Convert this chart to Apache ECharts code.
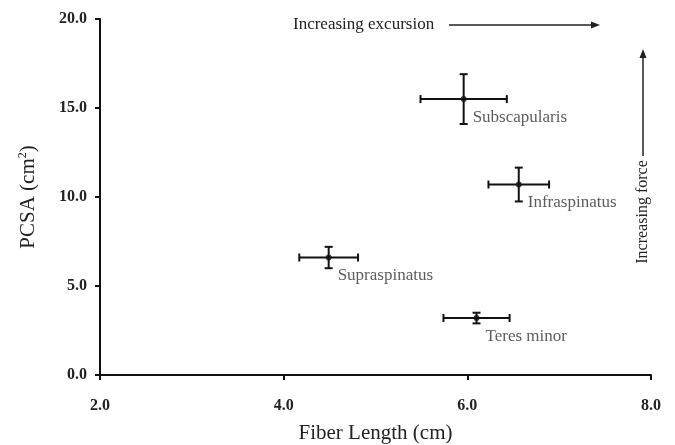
<!DOCTYPE html>
<html>
<head>
<meta charset="utf-8">
<style>
  html, body { margin: 0; padding: 0; background: #fff; }
  #chart { width: 675px; height: 445px; }
</style>
<script src="https://cdn.jsdelivr.net/npm/echarts@6/dist/echarts.min.js"></script>
</head>
<body>
<div id="chart"></div>
<script>
// muscle data
const muscles = ['Subscapularis', 'Infraspinatus', 'Supraspinatus', 'Teres minor'];
const fiberLength = [5.96, 6.56, 4.49, 6.10];   // cm
const fiberLengthErr = [0.47, 0.33, 0.32, 0.36];
const pcsa = [15.5, 10.7, 6.6, 3.2];              // cm^2
const pcsaErr = [1.4, 0.95, 0.6, 0.3];

const xTicks = [2, 4, 6, 8];
const yTicks = [0, 5, 10, 15, 20];

const serif = '"Liberation Serif", "Times New Roman", serif';

const chart = echarts.init(document.getElementById('chart'));

const points = muscles.map((m, i) => ({ name: m, value: [fiberLength[i], pcsa[i]] }));
const errData = muscles.map((m, i) => [fiberLength[i], pcsa[i], fiberLengthErr[i], pcsaErr[i]]);

const renderErr = (params, api) => {
  const x = api.value(0), y = api.value(1), ex = api.value(2), ey = api.value(3);
  const l = api.coord([x - ex, y]), r = api.coord([x + ex, y]);
  const t = api.coord([x, y + ey]), b = api.coord([x, y - ey]);
  const cap = 4;
  const style = { stroke: '#111', lineWidth: 2 };
  const line = (x1, y1, x2, y2) => ({ type: 'line', shape: { x1, y1, x2, y2 }, style });
  return {
    type: 'group',
    children: [
      line(l[0], l[1], r[0], r[1]),
      line(l[0], l[1] - cap, l[0], l[1] + cap),
      line(r[0], r[1] - cap, r[0], r[1] + cap),
      line(t[0], t[1], b[0], b[1]),
      line(t[0] - cap, t[1], t[0] + cap, t[1]),
      line(b[0] - cap, b[1], b[0] + cap, b[1])
    ]
  };
};

const option = {
  animation: false,
  backgroundColor: '#fff',
  grid: { left: 100, right: 24, top: 19, bottom: 70, outerBoundsMode: 'none' },
  xAxis: {
    type: 'value',
    min: xTicks[0],
    max: xTicks[xTicks.length - 1],
    interval: 2,
    name: 'Fiber Length (cm)',
    nameLocation: 'middle',
    nameGap: 48,
    nameTextStyle: { fontFamily: serif, fontSize: 21, color: '#222' },
    axisLine: { lineStyle: { color: '#111', width: 2 } },
    axisTick: { show: true, length: 5, lineStyle: { color: '#111', width: 2 } },
    axisLabel: {
      margin: 23,
      fontFamily: serif, fontSize: 16, fontWeight: 'bold', color: '#222',
      formatter: v => v.toFixed(1)
    },
    splitLine: { show: false }
  },
  yAxis: {
    type: 'value',
    min: yTicks[0],
    max: yTicks[yTicks.length - 1],
    interval: 5,
    name: 'PCSA (cm{sup|2})',
    nameLocation: 'middle',
    nameGap: 61,
    nameRotate: 90,
    nameTextStyle: {
      fontFamily: serif, fontSize: 21, color: '#222',
      rich: { sup: { fontFamily: serif, fontSize: 12, color: '#222', verticalAlign: 'top', padding: [0, 0, 10, 0] } }
    },
    axisLine: { lineStyle: { color: '#111', width: 2 } },
    axisTick: { show: true, length: 5, lineStyle: { color: '#111', width: 2 } },
    axisLabel: {
      margin: 13,
      fontFamily: serif, fontSize: 16, fontWeight: 'bold', color: '#222',
      formatter: v => v.toFixed(1)
    },
    splitLine: { show: false }
  },
  series: [
    {
      type: 'custom',
      data: errData,
      renderItem: renderErr,
      z: 2
    },
    {
      type: 'scatter',
      data: points,
      symbolSize: 6,
      itemStyle: { color: '#111' },
      z: 3,
      label: {
        show: true,
        position: 'right',
        distance: 6,
        offset: [0, 18],
        formatter: p => p.name,
        fontFamily: serif, fontSize: 17, color: '#333'
      }
    }
  ],
  graphic: [
    {
      type: 'text', x: 293, y: 25,
      style: { text: 'Increasing excursion', font: '17px ' + serif, fill: '#222', verticalAlign: 'middle' }
    },
    {
      type: 'line', shape: { x1: 449, y1: 25, x2: 594, y2: 25 },
      style: { stroke: '#222', lineWidth: 1.5 }
    },
    {
      type: 'polygon', shape: { points: [[600, 25], [591, 21.5], [591, 28.5]] },
      style: { fill: '#222' }
    },
    {
      type: 'text', x: 643, y: 212, rotation: Math.PI / 2,
      style: { text: 'Increasing force', font: '16px ' + serif, fill: '#222', align: 'center', verticalAlign: 'middle' }
    },
    {
      type: 'line', shape: { x1: 643, y1: 156, x2: 643, y2: 56 },
      style: { stroke: '#222', lineWidth: 1.5 }
    },
    {
      type: 'polygon', shape: { points: [[643, 49], [639.5, 58], [646.5, 58]] },
      style: { fill: '#222' }
    }
  ]
};

chart.setOption(option);
</script>
</body>
</html>
